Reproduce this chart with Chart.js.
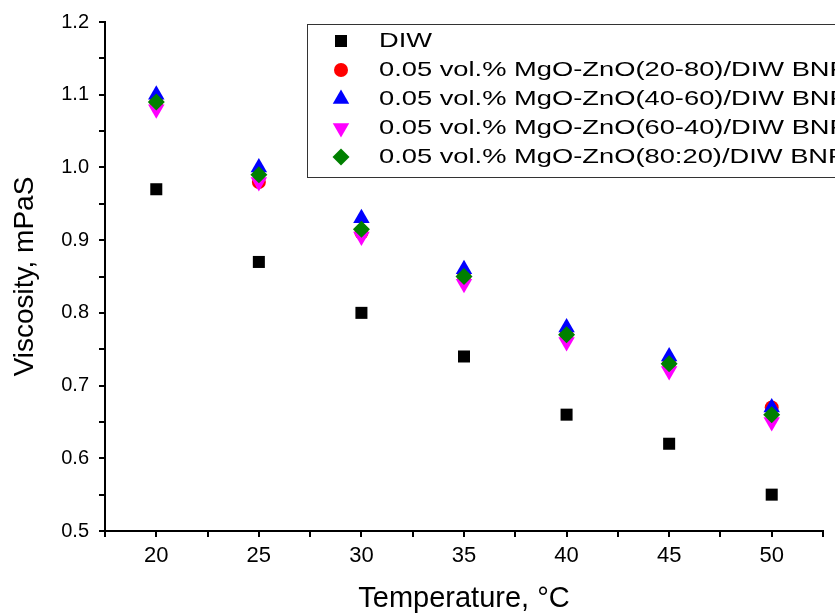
<!DOCTYPE html>
<html>
<head>
<meta charset="utf-8">
<script src="https://cdn.jsdelivr.net/npm/chart.js@4/dist/chart.umd.min.js"></script>
<style>
  html, body { margin: 0; padding: 0; background: #fff; }
  #chart { display: block; }
</style>
</head>
<body>
<canvas id="chart" width="835" height="613"></canvas>
<script>
// Viscosity vs temperature, DIW and 0.05 vol.% MgO-ZnO hybrid nanofluids.
const temps = [20, 25, 30, 35, 40, 45, 50];

const diw      = [0.97, 0.87, 0.80, 0.74, 0.66, 0.62, 0.55];
const mix2080  = [1.09, 0.98, 0.91, 0.85, 0.77, 0.73, 0.67];
const mix4060  = [1.10, 1.00, 0.93, 0.86, 0.78, 0.74, 0.67];
const mix6040  = [1.08, 0.98, 0.905, 0.84, 0.76, 0.72, 0.65];
const mix8020  = [1.09, 0.99, 0.915, 0.85, 0.77, 0.73, 0.66];

const seriesLabels = [
  'DIW',
  '0.05 vol.% MgO-ZnO(20-80)/DIW BNF',
  '0.05 vol.% MgO-ZnO(40-60)/DIW BNF',
  '0.05 vol.% MgO-ZnO(60-40)/DIW BNF',
  '0.05 vol.% MgO-ZnO(80:20)/DIW BNF',
];

const FONT = '"Liberation Sans", Arial, sans-serif';
const pts = (ys) => temps.map((t, i) => ({ x: t, y: ys[i] }));

function series(label, data, color, style, radius, rotation, order) {
  return {
    label, data: pts(data),
    backgroundColor: color, borderColor: color, borderWidth: 0,
    pointStyle: style, pointRadius: radius, pointHoverRadius: radius,
    rotation: rotation, showLine: false, order,
  };
}

// Legend drawn as a framed box inside the plot (Origin style).
const legendBox = {
  id: 'legendBox',
  afterDatasetsDraw(chart) {
    const ctx = chart.ctx;
    ctx.save();
    ctx.fillStyle = '#fff';
    ctx.fillRect(307, 24, 540, 153);
    ctx.strokeStyle = '#333';
    ctx.lineWidth = 1;
    ctx.strokeRect(307.5, 24.5, 540, 153);
    chart.data.datasets.forEach((ds, i) => {
      const y = 41 + i * 29;
      ctx.fillStyle = ds.backgroundColor;
      Chart.helpers.drawPoint(ctx, {
        pointStyle: ds.pointStyle, radius: ds.pointRadius,
        rotation: ds.rotation || 0, borderWidth: 0,
      }, 341, y);
      ctx.save();
      ctx.fillStyle = '#000';
      ctx.font = '21px ' + FONT;
      ctx.textBaseline = 'middle';
      ctx.translate(379, y);
      ctx.scale(1.3, 1);
      ctx.fillText(ds.label, 0, 0);
      ctx.restore();
    });
    ctx.restore();
  },
};

new Chart(document.getElementById('chart'), {
  type: 'scatter',
  data: {
    datasets: [
      series(seriesLabels[0], diw,     '#000000', 'rect',     8.5, 0,   5),
      series(seriesLabels[1], mix2080, '#ff0000', 'circle',   7,   0,   4),
      series(seriesLabels[2], mix4060, '#0000ff', 'triangle', 9.5, 0,   3),
      series(seriesLabels[3], mix6040, '#ff00ff', 'triangle', 9.5, 180, 2),
      series(seriesLabels[4], mix8020, '#008000', 'rectRot',  8.5, 0,   1),
    ],
  },
  options: {
    responsive: false,
    animation: false,
    layout: { padding: { top: 22, right: 12, left: 0, bottom: 0 } },
    plugins: { legend: { display: false }, tooltip: { enabled: false } },
    scales: {
      x: {
        type: 'linear', min: 17.5, max: 52.5,
        border: { color: '#000', width: 2 },
        grid: { drawOnChartArea: false, tickLength: 6, color: '#000', lineWidth: 2 },
        ticks: {
          stepSize: 2.5, autoSkip: false, maxRotation: 0, padding: 6,
          color: '#000', font: { family: FONT, size: 22 },
          callback: (v) => (v % 5 === 0 ? String(v) : ''),
        },
        title: {
          display: true, text: 'Temperature, °C', color: '#000',
          font: { family: FONT, size: 29, lineHeight: 1 }, padding: { top: 0, bottom: 0 },
        },
        afterFit: (s) => { s.height = 82; },
      },
      y: {
        min: 0.5, max: 1.2,
        border: { color: '#000', width: 2 },
        grid: { drawOnChartArea: false, tickLength: 6, color: '#000', lineWidth: 2 },
        ticks: {
          stepSize: 0.05, autoSkip: false, padding: 10,
          color: '#000', font: { family: FONT, size: 20 },
          callback: (v) => (Math.abs(v * 10 - Math.round(v * 10)) < 1e-6 ? v.toFixed(1) : ''),
        },
        title: {
          display: true, text: 'Viscosity, mPaS', color: '#000',
          font: { family: FONT, size: 28, lineHeight: 1 }, padding: { top: 11, bottom: 0 },
        },
        afterFit: (s) => { s.width = 105; },
      },
    },
  },
  plugins: [legendBox],
});
</script>
</body>
</html>
